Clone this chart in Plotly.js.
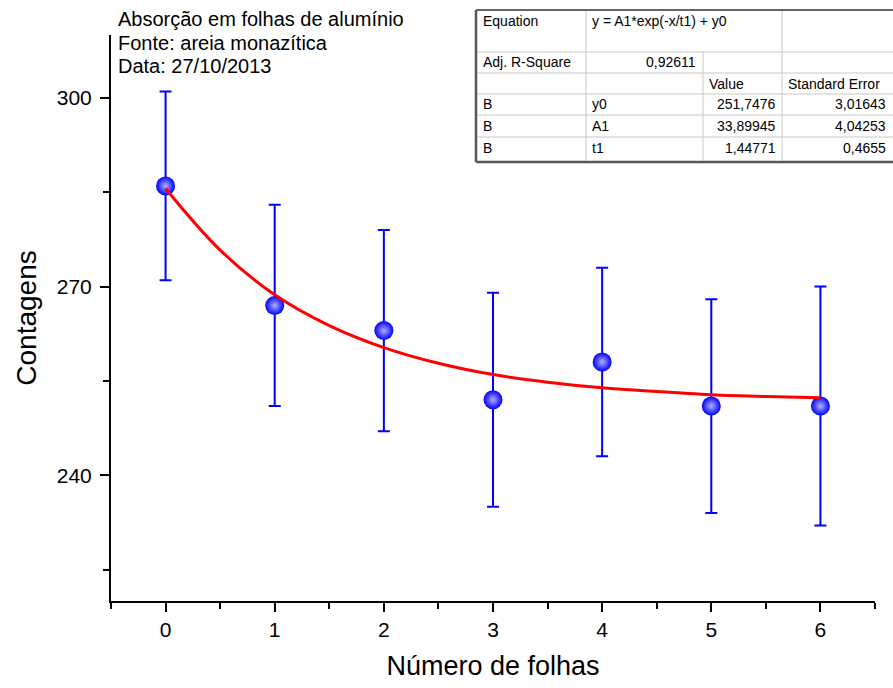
<!DOCTYPE html>
<html>
<head>
<meta charset="utf-8">
<script src="https://cdn.plot.ly/plotly-3.0.1.min.js"></script>
<style>html,body{margin:0;padding:0;background:#fff;}#chart{width:893px;height:688px;}</style>
</head>
<body>
<div id="chart"></div>
<script>
// Data
var folhas = [0, 1, 2, 3, 4, 5, 6];
var contagens = [286, 267, 263, 252, 258, 251, 251];
var erros = [15, 16, 16, 17, 15, 17, 19];
// Fitted curve
var fitX = [0, 0.5, 1, 1.5, 2, 2.5, 3, 3.5, 4, 4.5, 5, 5.5, 6];
var fitY = [285.6, 275.8, 268.7, 263.8, 260.3, 257.8, 256.0, 254.8, 253.9, 253.3, 252.8, 252.5, 252.3];
var yTicks = [240, 270, 300];
var xTicks = [0, 1, 2, 3, 4, 5, 6];
var titleLines = ["Absorção em folhas de alumínio", "Fonte: areia monazítica", "Data: 27/10/2013"];
// Fit table
var tabEquation = ["Equation", "y = A1*exp(-x/t1) + y0"];
var tabAdjR = ["Adj. R-Square", "0,92611"];
var tabHeader = ["Value", "Standard Error"];
var tabRows = [
  ["B", "y0", "251,7476", "3,01643"],
  ["B", "A1", "33,89945", "4,04253"],
  ["B", "t1", "1,44771", "0,4655"]
];

var FONT = "Arial, 'Liberation Sans', sans-serif";
var W = 893, H = 688;
var ML = 111, MR = 18, MT = 35, MB = 87;
var PW = W - ML - MR, PH = H - MT - MB;
function px(x){ return (x - ML) / PW; }
function py(y){ return (H - MB - y) / PH; }

var traces = [
  {
    x: folhas, y: contagens, type: 'scatter', mode: 'markers',
    error_y: {type: 'data', array: erros, visible: true, color: '#0000ff', thickness: 2, width: 6},
    marker: {size: 19, color: '#0000ff', gradient: {type: 'radial', color: '#b0b0ff'}, line: {width: 0}},
    showlegend: false, hoverinfo: 'x+y'
  },
  {
    x: fitX, y: fitY, type: 'scatter', mode: 'lines',
    line: {color: '#ff0000', width: 3, shape: 'spline'},
    showlegend: false, hoverinfo: 'skip'
  }
];

// table geometry (pixels)
var colX = [476, 586, 703, 782, 893];
var rowY = [10, 52, 73, 94, 115, 137, 162];
var shapes = [];
var gray = '#c8c8c8';
function line(x0, y0, x1, y1, color, width){
  shapes.push({type: 'line', xref: 'paper', yref: 'paper', x0: px(x0), y0: py(y0), x1: px(x1), y1: py(y1), line: {color: color, width: width}});
}
for (var i = 1; i < rowY.length - 1; i++) line(colX[0], rowY[i], colX[4], rowY[i], gray, 1);
line(colX[1], rowY[0], colX[1], rowY[6], gray, 1);
line(colX[2], rowY[1], colX[2], rowY[6], gray, 1);
line(colX[3], rowY[0], colX[3], rowY[6], gray, 1);
line(colX[0], rowY[0], colX[4], rowY[0], '#333333', 1.5);
line(colX[0], rowY[0], colX[0], rowY[6], '#555555', 2.5);
line(colX[0], rowY[6], colX[4], rowY[6], '#555555', 2.5);

var annotations = [];
function txt(s, x, y, anchor, size){
  annotations.push({text: s, xref: 'paper', yref: 'paper', x: px(x), y: py(y), xanchor: anchor, yanchor: 'middle', showarrow: false, font: {family: FONT, size: size || 14, color: '#000'}});
}
txt(tabEquation[0], colX[0] + 5, 21, 'left');
txt(tabEquation[1], colX[1] + 4, 21, 'left');
txt(tabAdjR[0], colX[0] + 5, 62, 'left');
txt(tabAdjR[1], colX[2] - 5, 62, 'right');
txt(tabHeader[0], colX[2] + 4, 84, 'left');
txt(tabHeader[1], colX[3] + 4, 84, 'left');
var rowC = [104, 126, 148];
for (var r = 0; r < tabRows.length; r++){
  var yc = rowC[r];
  txt(tabRows[r][0], colX[0] + 5, yc, 'left');
  txt(tabRows[r][1], colX[1] + 4, yc, 'left');
  txt(tabRows[r][2], colX[3] - 4, yc, 'right');
  txt(tabRows[r][3], colX[4] - 5, yc, 'right');
}
var titleY = [19, 43, 66];
for (var k = 0; k < titleLines.length; k++) txt(titleLines[k], 116, titleY[k], 'left', 20);

var layout = {
  width: W, height: H,
  margin: {l: ML, r: MR, t: MT, b: MB, pad: 0},
  paper_bgcolor: '#fff', plot_bgcolor: '#fff',
  font: {family: FONT, color: '#000'},
  xaxis: {
    range: [-0.5, 6.5], tickvals: xTicks, ticktext: xTicks.map(String),
    showgrid: false, zeroline: false, showline: true, linecolor: '#000', linewidth: 2,
    ticks: 'outside', ticklen: 9, tickwidth: 2, tickcolor: '#000',
    minor: {dtick: 0.5, tick0: -0.5, ticks: 'outside', ticklen: 6, tickwidth: 2, tickcolor: '#000', showgrid: false},
    tickfont: {family: FONT, size: 21}, ticklabelstandoff: 0,
    title: {text: 'Número de folhas', font: {family: FONT, size: 27}, standoff: 16}
  },
  yaxis: {
    range: [220, 310], tickvals: yTicks, ticktext: yTicks.map(String),
    showgrid: false, zeroline: false, showline: true, linecolor: '#000', linewidth: 2,
    ticks: 'outside', ticklen: 9, tickwidth: 2, tickcolor: '#000',
    minor: {dtick: 15, tick0: 225, ticks: 'outside', ticklen: 6, tickwidth: 2, tickcolor: '#000', showgrid: false},
    tickfont: {family: FONT, size: 21}, ticklabelstandoff: 4,
    title: {text: 'Contagens', font: {family: FONT, size: 28}, standoff: 12}
  },
  shapes: shapes,
  annotations: annotations,
  showlegend: false
};
Plotly.newPlot('chart', traces, layout, {displayModeBar: false, staticPlot: true});
</script>
</body>
</html>
